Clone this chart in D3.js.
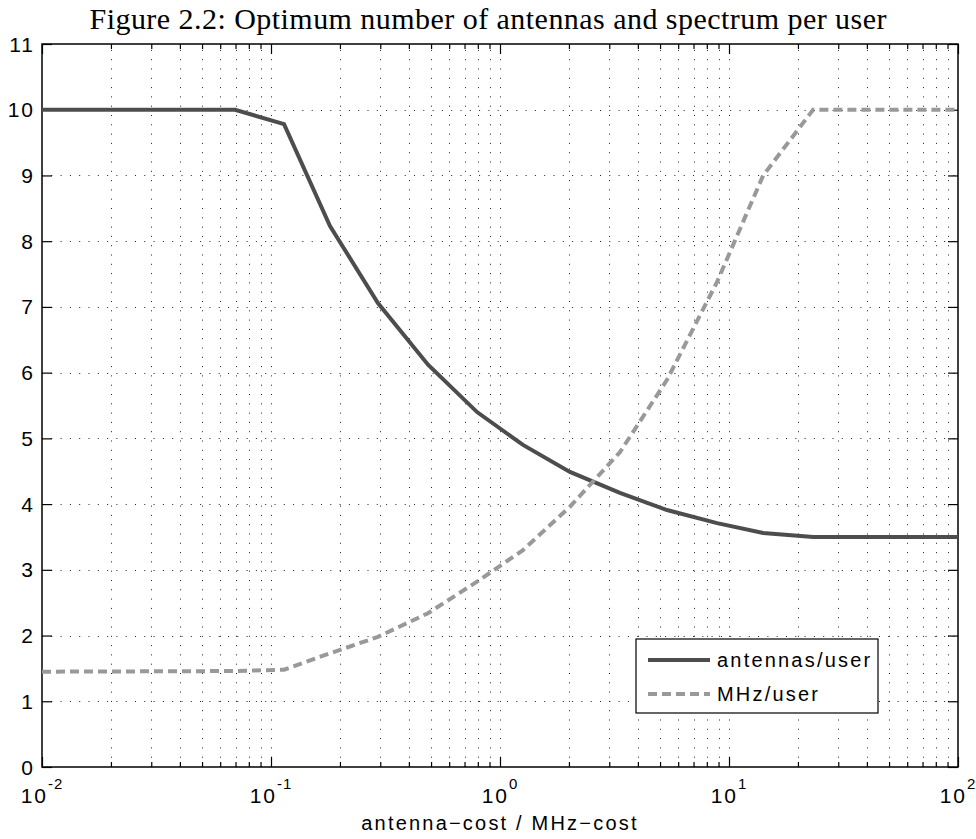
<!DOCTYPE html>
<html>
<head>
<meta charset="utf-8">
<script src="https://cdn.jsdelivr.net/npm/d3@7"></script>
<style>
  body { margin: 0; background: #fff; }
  svg { display: block; }
</style>
</head>
<body>
<div id="chart"></div>
<script>
// data
const costRatio = [0.01, 0.0697, 0.114, 0.181, 0.293, 0.485, 0.794, 1.26, 2.02, 3.34, 5.36, 8.87, 14.1, 23.3, 100];
const antennasPerUser = [10, 10, 9.78, 8.23, 7.06, 6.12, 5.40, 4.90, 4.49, 4.17, 3.91, 3.71, 3.56, 3.5, 3.5];
const mhzPerUser = [1.45, 1.46, 1.48, 1.73, 1.98, 2.34, 2.82, 3.30, 3.96, 4.79, 5.89, 7.38, 9.0, 10, 10];
const xExponents = [-2, -1, 0, 1, 2];
const yTicks = [0, 1, 2, 3, 4, 5, 6, 7, 8, 9, 10, 11];
const seriesNames = ["antennas/user", "MHz/user"];

const width = 976, height = 839;
const margin = { top: 44, right: 18, bottom: 72, left: 42 };
const sans = "'Liberation Sans', Arial, sans-serif";

const svg = d3.select("#chart").append("svg")
  .attr("width", width)
  .attr("height", height);

const x = d3.scaleLog()
  .domain([0.01, 100])
  .range([margin.left, width - margin.right]);

const y = d3.scaleLinear()
  .domain([0, 11])
  .range([height - margin.bottom, margin.top]);

const majors = xExponents.map(e => Math.pow(10, e));
const minors = [];
xExponents.slice(0, -1).forEach(e => {
  for (let k = 2; k <= 9; k++) minors.push(k * Math.pow(10, e));
});

// dotted grid
const grid = svg.append("g")
  .attr("stroke", "#222")
  .attr("stroke-width", 1)
  .attr("stroke-dasharray", "1,8.3");

grid.selectAll(".vg")
  .data(majors.slice(1, -1).concat(minors))
  .join("line")
  .attr("x1", d => Math.round(x(d)) + 0.5)
  .attr("x2", d => Math.round(x(d)) + 0.5)
  .attr("y1", y(0))
  .attr("y2", y(11));

grid.selectAll(".hg")
  .data(yTicks.slice(1, -1))
  .join("line")
  .attr("x1", x(0.01))
  .attr("x2", x(100))
  .attr("y1", d => Math.round(y(d)) + 0.5)
  .attr("y2", d => Math.round(y(d)) + 0.5);

// ticks on all four sides, pointing inward
function styleAxis(g) {
  g.select(".domain").remove();
  g.selectAll(".tick line").attr("stroke", "#000").attr("stroke-width", 1.2);
  g.selectAll(".tick text").remove();
}

svg.append("g")
  .attr("transform", `translate(0,${y(0)})`)
  .call(d3.axisBottom(x).tickValues(majors).tickSize(-10).tickFormat(""))
  .call(styleAxis);
svg.append("g")
  .attr("transform", `translate(0,${y(0)})`)
  .call(d3.axisBottom(x).tickValues(minors).tickSize(-5).tickFormat(""))
  .call(styleAxis);
svg.append("g")
  .attr("transform", `translate(0,${y(11)})`)
  .call(d3.axisTop(x).tickValues(majors).tickSize(-10).tickFormat(""))
  .call(styleAxis);
svg.append("g")
  .attr("transform", `translate(0,${y(11)})`)
  .call(d3.axisTop(x).tickValues(minors).tickSize(-5).tickFormat(""))
  .call(styleAxis);
svg.append("g")
  .attr("transform", `translate(${x(0.01)},0)`)
  .call(d3.axisLeft(y).tickValues(yTicks).tickSize(-10).tickFormat(""))
  .call(styleAxis);
svg.append("g")
  .attr("transform", `translate(${x(100)},0)`)
  .call(d3.axisRight(y).tickValues(yTicks).tickSize(-10).tickFormat(""))
  .call(styleAxis);

// y tick labels
svg.append("g").selectAll("text")
  .data(yTicks)
  .join("text")
  .attr("x", margin.left - 7)
  .attr("y", d => y(d) + 7.5)
  .attr("text-anchor", "end")
  .style("font-family", sans)
  .style("font-size", "21px")
  .style("letter-spacing", "2px")
  .text(d => d);

// x tick labels 10^e
const xl = svg.append("g").selectAll("text")
  .data(xExponents)
  .join("text")
  .attr("x", e => x(Math.pow(10, e)))
  .attr("y", y(0) + 36)
  .attr("text-anchor", "middle")
  .style("font-family", sans)
  .style("font-size", "21px")
  .style("letter-spacing", "2px");
xl.append("tspan").text("10");
xl.append("tspan")
  .attr("dy", -14)
  .style("font-size", "15px")
  .style("letter-spacing", "1px")
  .text(e => e < 0 ? "-" + Math.abs(e) : e);

// axis box
svg.append("rect")
  .attr("x", x(0.01))
  .attr("y", y(11))
  .attr("width", x(100) - x(0.01))
  .attr("height", y(0) - y(11))
  .attr("fill", "none")
  .attr("stroke", "#000")
  .attr("stroke-width", 1.5);

// lines
const curve = d3.line()
  .x((d, i) => x(costRatio[i]))
  .y(d => y(d));

svg.append("path")
  .datum(antennasPerUser)
  .attr("fill", "none")
  .attr("stroke", "#4d4d4d")
  .attr("stroke-width", 4)
  .attr("d", curve);

svg.append("path")
  .datum(mhzPerUser)
  .attr("fill", "none")
  .attr("stroke", "#999")
  .attr("stroke-width", 4)
  .attr("stroke-dasharray", "9,5")
  .attr("d", curve);

// legend
const lg = svg.append("g").attr("transform", "translate(636,639)");
lg.append("rect")
  .attr("width", 242)
  .attr("height", 74)
  .attr("fill", "#fff")
  .attr("stroke", "#000")
  .attr("stroke-width", 1.2);
const legendStyles = [
  { color: "#4d4d4d", dash: null },
  { color: "#999", dash: "9,5" }
];
seriesNames.forEach((name, i) => {
  const yy = 21 + i * 34;
  lg.append("line")
    .attr("x1", 12).attr("x2", 74)
    .attr("y1", yy).attr("y2", yy)
    .attr("stroke", legendStyles[i].color)
    .attr("stroke-width", 4)
    .attr("stroke-dasharray", legendStyles[i].dash);
  lg.append("text")
    .attr("x", 81)
    .attr("y", yy + 7)
    .style("font-family", sans)
    .style("font-size", "20px")
    .style("letter-spacing", "2.2px")
    .text(name);
});

// axis title
svg.append("text")
  .attr("x", x(1))
  .attr("y", 830)
  .attr("text-anchor", "middle")
  .style("font-family", sans)
  .style("font-size", "20px")
  .style("letter-spacing", "2.2px")
  .text("antenna\u2212cost / MHz\u2212cost");

// figure title
svg.append("text")
  .attr("x", 488)
  .attr("y", 29)
  .attr("text-anchor", "middle")
  .attr("textLength", 797)
  .attr("lengthAdjust", "spacing")
  .style("font-family", "'Liberation Serif', 'Times New Roman', serif")
  .style("font-size", "30px")
  .text("Figure 2.2: Optimum number of antennas and spectrum per user");
</script>
</body>
</html>
